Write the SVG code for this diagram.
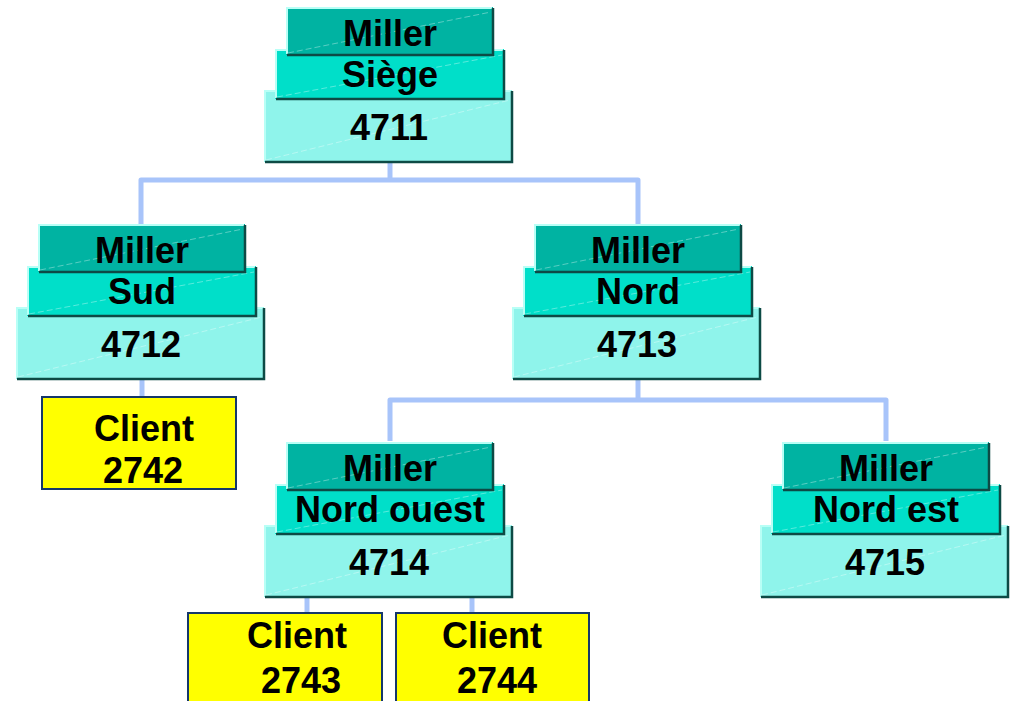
<svg xmlns="http://www.w3.org/2000/svg" width="1011" height="701" viewBox="0 0 1011 701">
<defs>
<style>
.t{font-family:"Liberation Sans",Arial,sans-serif;font-weight:bold;font-size:36px;fill:#000;text-anchor:middle}
.l1{fill:#00b3a2}
.l2{fill:#00dfc9}
.l3{fill:#8ff4eb}
.dk{fill:none;stroke:#0d4a45;stroke-width:2.5}
.lt{fill:none;stroke:#b8fff6;stroke-width:2}
.dg{fill:none;stroke:#ffffff;stroke-opacity:0.35;stroke-width:1;stroke-dasharray:6 3}
.con{fill:none;stroke:#a8c4fa;stroke-width:5;stroke-linejoin:round}
.cl{fill:#ffff00;stroke:#15376a;stroke-width:2}
</style>
<g id="stack">
<rect class="l3" x="264" y="90" width="248" height="72"/>
<line class="dg" x1="266" y1="160" x2="510" y2="100"/>
<polyline class="lt" points="265,161 265,91 511,91"/>
<polyline class="dk" points="265,162 512,162 512,91"/>
<rect class="l2" x="275" y="49" width="229" height="50"/>
<line class="dg" x1="277" y1="97" x2="502" y2="55"/>
<polyline class="lt" points="276,98 276,50 503,50"/>
<polyline class="dk" points="276,99 504,99 504,50"/>
<rect class="l1" x="286" y="7" width="207" height="48"/>
<line class="dg" x1="288" y1="53" x2="491" y2="12"/>
<polyline class="lt" points="287,54 287,8 492,8"/>
<polyline class="dk" points="287,55 493,55 493,8"/>
</g>
</defs>
<g id="connectors">
<path class="con" d="M390,162 V180"/>
<path class="con" d="M141,224 V180 H638 V224"/>
<path class="con" d="M142,379 V397"/>
<path class="con" d="M638,379 V400"/>
<path class="con" d="M390,441 V400 H886 V441"/>
<path class="con" d="M307,597 V613"/>
<path class="con" d="M472,597 V613"/>
</g>
<g id="node-4711">
<use href="#stack"/>
<text class="t" x="390" y="46">Miller</text>
<text class="t" x="390" y="87">Siège</text>
<text class="t" x="389" y="140">4711</text>
</g>
<g id="node-4712" transform="translate(-248,217)">
<use href="#stack"/>
<text class="t" x="390" y="46">Miller</text>
<text class="t" x="390" y="87">Sud</text>
<text class="t" x="389" y="140">4712</text>
</g>
<g id="node-4713" transform="translate(248,217)">
<use href="#stack"/>
<text class="t" x="390" y="46">Miller</text>
<text class="t" x="390" y="87">Nord</text>
<text class="t" x="389" y="140">4713</text>
</g>
<g id="node-4714" transform="translate(0,435)">
<use href="#stack"/>
<text class="t" x="390" y="46">Miller</text>
<text class="t" x="390" y="87">Nord ouest</text>
<text class="t" x="389" y="140">4714</text>
</g>
<g id="node-4715" transform="translate(496,435)">
<use href="#stack"/>
<text class="t" x="390" y="46">Miller</text>
<text class="t" x="390" y="87">Nord est</text>
<text class="t" x="389" y="140">4715</text>
</g>
<g id="client-2742">
<rect class="cl" x="42" y="397" width="194" height="92"/>
<text class="t" x="144" y="441">Client</text>
<text class="t" x="143" y="483">2742</text>
</g>
<g id="client-2743">
<rect class="cl" x="188" y="613" width="194" height="100"/>
<text class="t" x="297" y="648">Client</text>
<text class="t" x="301" y="693">2743</text>
</g>
<g id="client-2744">
<rect class="cl" x="396" y="613" width="193" height="100"/>
<text class="t" x="492" y="648">Client</text>
<text class="t" x="497" y="693">2744</text>
</g>
</svg>
